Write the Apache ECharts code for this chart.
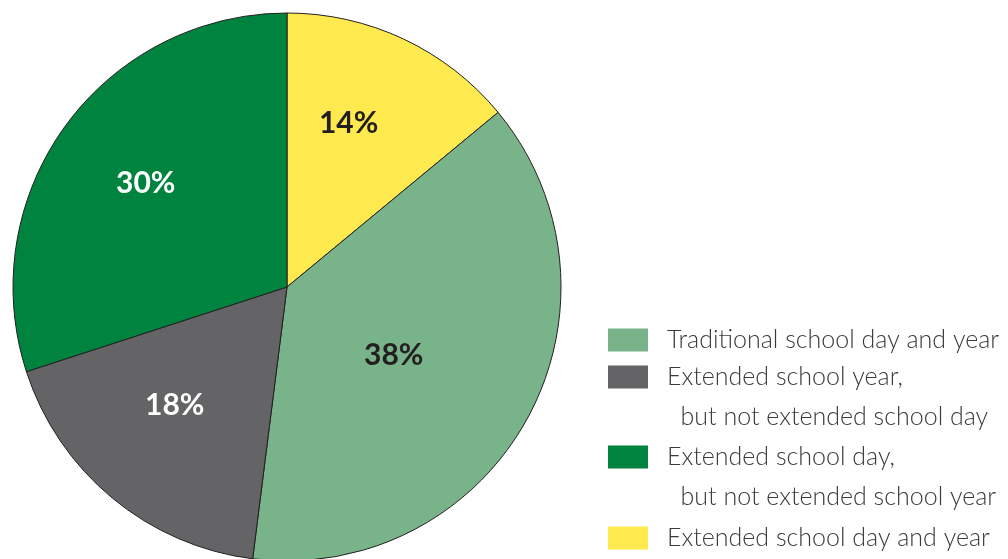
<!DOCTYPE html>
<html>
<head>
<meta charset="utf-8">
<script src="https://cdn.jsdelivr.net/npm/echarts@6/dist/echarts.min.js"></script>
<style>
  html, body { margin: 0; padding: 0; background: #fff; }
  #chart { width: 1008px; height: 559px; }
</style>
</head>
<body>
<div id="chart"></div>
<script>
// slices in drawing order, clockwise from 12 o'clock
const categories = [
  'Extended school day and year',
  'Traditional school day and year',
  'Extended school year, but not extended school day',
  'Extended school day, but not extended school year'
];
const shares = [14, 38, 18, 30];
// legend lists them in a different order
const legendOrder = [1, 2, 3, 0];

const colors = ['#fee94e', '#78b38a', '#646466', '#00833e'];
const labelColors = ['#231f20', '#231f20', '#ffffff', '#ffffff'];
const labelOffsets = [[2, -37], [-16, 1], [-23, 10], [-28, -21]];
const legendTops = [320, 317, 397, 518];

const chart = echarts.init(document.getElementById('chart'));

const legends = legendOrder.map((idx, k) => ({
  data: [categories[idx]],
  orient: 'vertical',
  left: 608,
  top: legendTops[k],
  padding: 0,
  itemWidth: 40,
  itemHeight: 23,
  icon: 'rect',
  selectedMode: false,
  itemStyle: { borderWidth: 0 },
  // two-line entries get an empty first line so the square sits beside the real first line
  formatter: (name) => name.indexOf(', ') >= 0 ? '\n' + name.replace(', ', ',\n  ') : name,
  textStyle: {
    fontFamily: 'Lato',
    fontWeight: 300,
    fontSize: 25,
    color: '#3a3a3a',
    lineHeight: 40,
    padding: [0, 0, 0, 14],
    backgroundColor: 'rgba(255,255,255,0)'
  }
}));

chart.setOption({
  animation: false,
  legend: legends,
  series: [
    {
      type: 'pie',
      center: [287, 287],
      radius: 274,
      startAngle: 90,
      clockwise: true,
      silent: true,
      itemStyle: {
        borderColor: '#231f20',
        borderWidth: 1
      },
      label: {
        position: 'inside',
        fontFamily: 'Lato',
        fontWeight: 'bold',
        fontSize: 30,
        formatter: '{c}%'
      },
      labelLine: { show: false },
      emphasis: { disabled: true },
      data: categories.map((name, i) => ({
        name: name,
        value: shares[i],
        itemStyle: { color: colors[i] },
        label: { color: labelColors[i], offset: labelOffsets[i] }
      }))
    }
  ]
});
</script>
</body>
</html>
